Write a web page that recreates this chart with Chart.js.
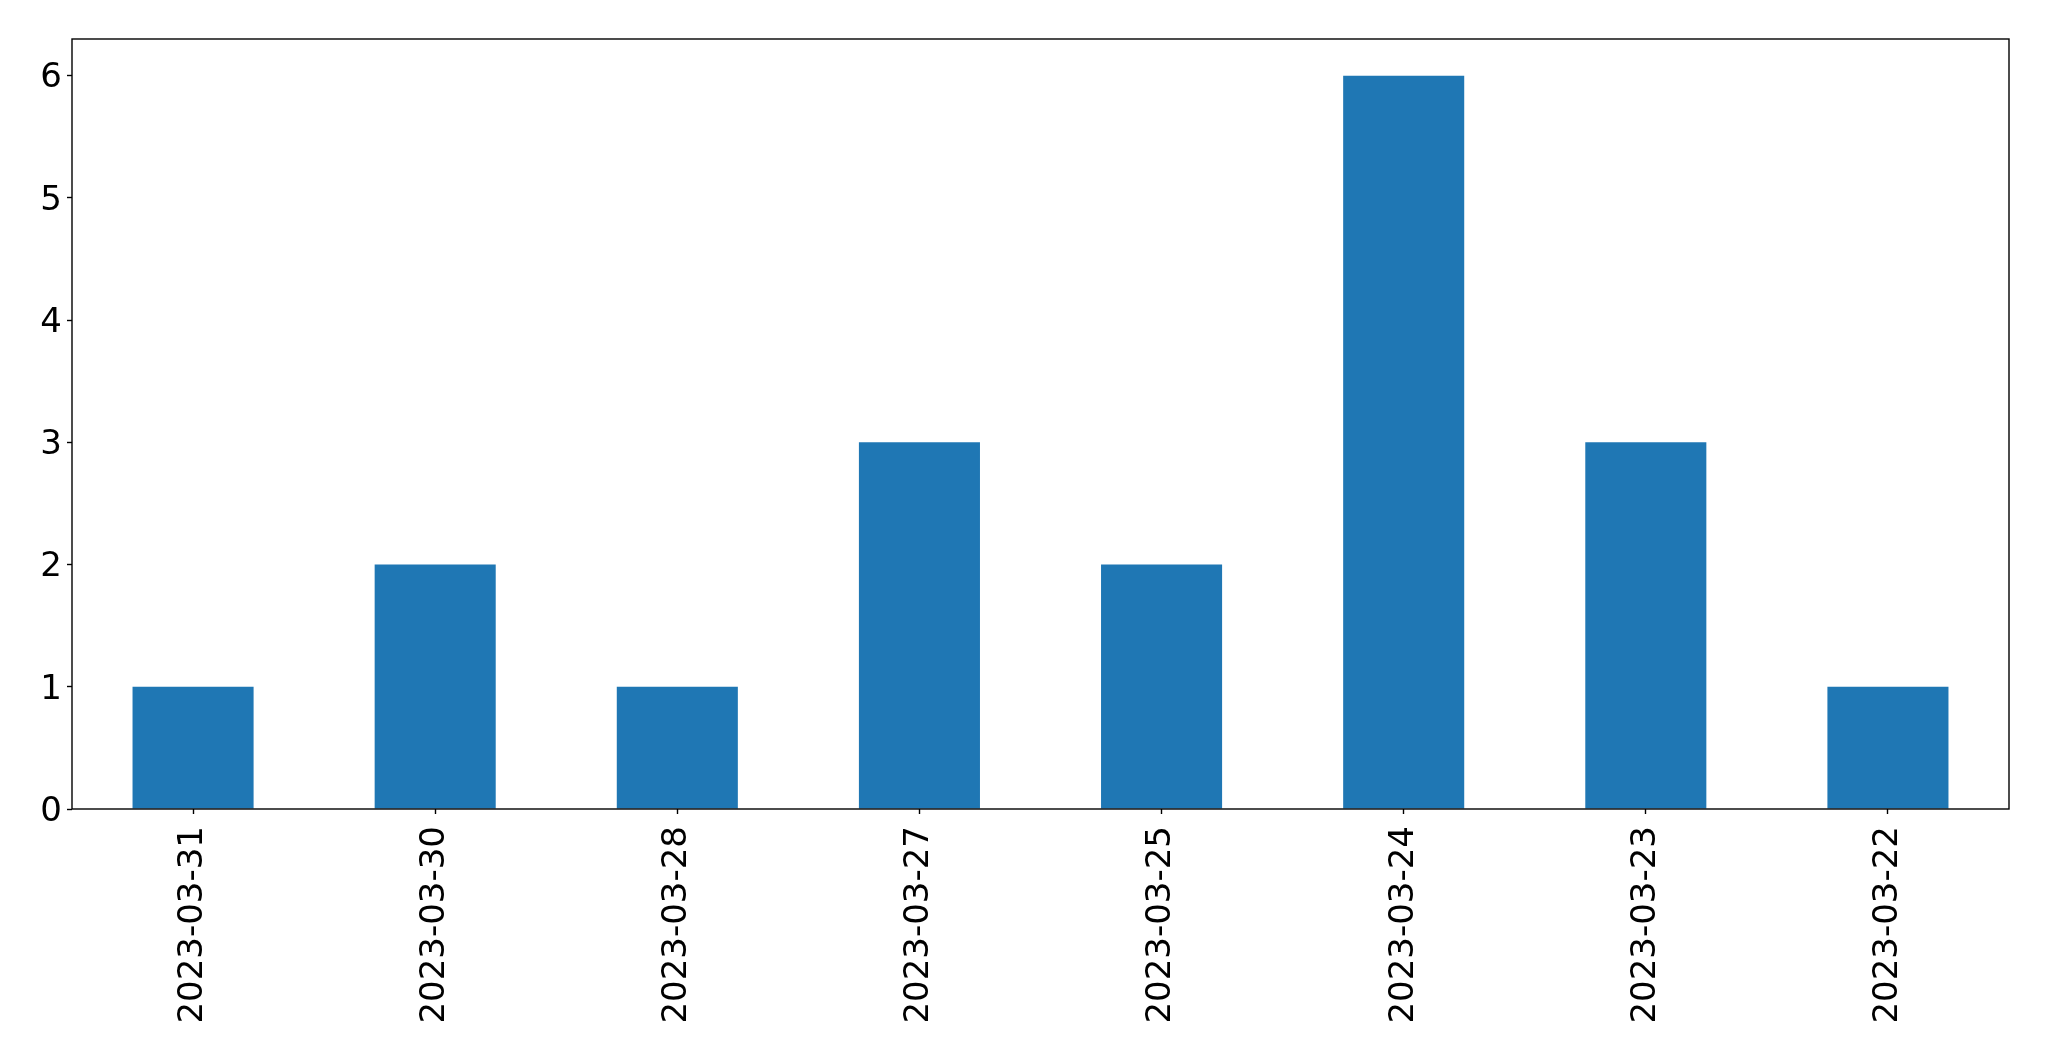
<!DOCTYPE html>
<html>
<head>
<meta charset="utf-8">
<script src="https://cdn.jsdelivr.net/npm/chart.js@4"></script>
<style>
    html, body { margin: 0; padding: 0; background: #ffffff; }
    #wrap { width: 2049px; height: 1061px; }
</style>
</head>
<body>
<div id="wrap"><canvas id="barChart" width="2049" height="1061"></canvas></div>
<script>
// --- Data ---
const dates = ['2023-03-31', '2023-03-30', '2023-03-28', '2023-03-27',
               '2023-03-25', '2023-03-24', '2023-03-23', '2023-03-22'];
const counts = [1, 2, 1, 3, 2, 6, 3, 1];
const yTicks = [0, 1, 2, 3, 4, 5, 6];

const FONT = { family: 'DejaVu Sans', size: 34 };

// Draws the black box around the plot area (matplotlib style spines)
const frameBox = {
    id: 'frameBox',
    afterDraw(chart) {
        const { ctx, chartArea: a } = chart;
        ctx.save();
        ctx.strokeStyle = '#000000';
        ctx.lineWidth = 1.4;
        ctx.strokeRect(a.left, a.top, a.right - a.left, a.bottom - a.top);
        ctx.restore();
    }
};

new Chart(document.getElementById('barChart').getContext('2d'), {
    type: 'bar',
    data: {
        labels: dates,
        datasets: [{
            data: counts,
            backgroundColor: '#1f77b4',
            borderWidth: 0,
            barPercentage: 0.5,
            categoryPercentage: 1.0
        }]
    },
    options: {
        responsive: false,
        animation: false,
        layout: { padding: { left: 0, top: 39, right: 40, bottom: 0 } },
        plugins: { legend: { display: false }, tooltip: { enabled: false } },
        scales: {
            x: {
                offset: true,
                grid: { offset: false, drawOnChartArea: false, tickLength: 5, tickColor: '#000', tickWidth: 1.4 },
                border: { display: false },
                ticks: { font: FONT, color: '#000', minRotation: 90, maxRotation: 90, padding: 12, autoSkip: false },
                afterFit(scale) { scale.height = 252; }
            },
            y: {
                min: 0,
                max: 6.3,
                grid: { drawOnChartArea: false, tickLength: 5, tickColor: '#000', tickWidth: 1.4 },
                border: { display: false },
                ticks: { font: FONT, color: '#000', stepSize: 1, includeBounds: false, padding: 5, labelOffset: 3 },
                afterBuildTicks(scale) { scale.ticks = yTicks.map(v => ({ value: v })); },
                afterFit(scale) { scale.width = 72; }
            }
        }
    },
    plugins: [frameBox]
});
</script>
</body>
</html>
